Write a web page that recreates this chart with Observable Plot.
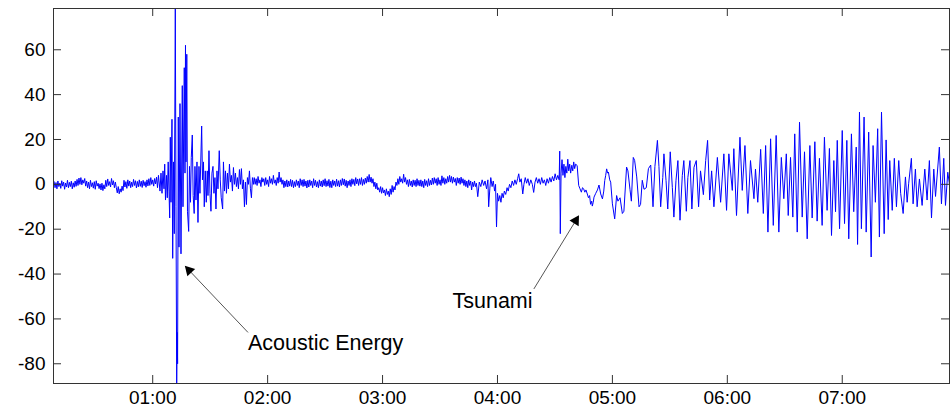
<!DOCTYPE html>
<html><head><meta charset="utf-8">
<script src="https://cdn.jsdelivr.net/npm/d3@7"></script>
<script src="https://cdn.jsdelivr.net/npm/@observablehq/plot@0.6"></script>
<style>body{margin:0;background:#fff}</style>
</head><body><div id="chart"></div>
<script>
// Time in minutes after 00:00, values in cm
const xDomain = [8.2, 476];
const yDomain = [-88.8, 78.4];
const xTickMinutes = [60, 120, 180, 240, 300, 360, 420];
const xTickLabels = ["01:00", "02:00", "03:00", "04:00", "05:00", "06:00", "07:00"];
const yTicks = [-80, -60, -40, -20, 0, 20, 40, 60];

// quiet background before the acoustic arrival, one sample every 30 s from 8.5 min
const quietAStart = 8.5, quietAStep = 0.5;
const quietA = [1.2,-1.5,0.8,-2,1.5,-1,0.5,-1.8,1.6,-0.8,1,-2.2,0.6,-1.2,1.8,-1.5,0.9,-1,1.4,-2,0.7,-1.3,1.5,-0.9,
  2.2,-0.5,2.8,0,3,-0.2,2,0.5,2.6,-0.8,
  1.5,-1.5,1,-2,1.8,-1,0.7,-1.7,1.2,-2.2,1.6,-0.8,0.5,-1.9,
  0.2,-2.5,0.5,-2.8,-0.2,-2,
  1.8,-1,2.4,-0.5,1.2,-1.2,2.6,-0.3,1.6,-1.5,1,
  -1.5,-3.8,-1,-4.2,-2,-3.5,-0.8,-2.8,
  1.8,-1.2,1.2,-1.8,2,-0.8,1.5,-1.5,1,-1,2.2,-0.5,1.6,-1.6,1.3,-1.1,2,-0.9,1.4,-1.4,1.8,-0.6,1.2,-1.3,2,-0.7,
  2.5,-0.5,3,0,2,-0.8,2.6,0.2,3.2,-1.5,4];

// acoustic energy burst [minute, value]
const burst = [[63.8,-3],[64.32,5],[64.85,-4],[65.37,6],[65.89,-2],[66.26,9],[66.67,-7],[67.2,4],[67.61,-6],[68.08,10],[68.5,-3],[68.86,-15],[69.18,21],[69.54,-8],[70.06,29],[70.43,-33],[70.85,10],[71.26,-22],[71.79,78.4],[72.15,-10],[72.52,-88.8],[72.78,-66],[72.99,-80],[73.35,30],[73.72,-28],[74.24,36],[74.76,-31],[75.44,44],[75.8,-10],[76.48,52],[76.85,5],[77.11,62],[77.37,10],[77.79,58],[78.15,-12],[78.78,-21],[79.19,8],[79.72,-8],[80.13,12],[80.66,22],[81.12,-5],[81.65,-13],[82.06,8],[82.59,-7],[83.11,10],[83.63,-17],[84.15,8],[84.67,-4],[85.56,26],[85.98,2],[86.5,10],[86.92,-10],[87.44,6],[87.96,-8],[88.48,6],[88.85,-5],[89.37,15],[89.89,-4],[90.41,-12],[90.93,5],[91.46,8],[91.98,-4],[92.5,3],[93.02,-11],[93.54,6],[94.07,-2],[94.74,15],[95.26,2],[95.78,-6],[96.51,-11],[96.93,10],[97.45,-3],[97.98,6],[98.5,-4],[99.02,5],[99.54,-2],[100.06,9],[100.58,1],[101.1,4],[101.63,-3],[102.15,7.5],[102.67,0],[103.19,5],[103.71,-1],[104.24,3],[104.76,-2],[105.28,6.6],[105.8,0],[106.32,7],[106.84,-2],[107.37,2],[107.89,-10],[108.41,1],[108.93,-9],[109.45,3],[109.97,0],[110.5,6],[111.02,-2],[111.54,-6],[112.06,3],[112.58,0]];

// quiet interval between the burst and the tsunami, one sample every 30 s from 113 min
const quietCStart = 113, quietCStep = 0.5;
const quietC = [3,0,2.5,-0.5,3.5,0.5,2,-1,3,1,
  2.5,-0.5,3,0,2,-1,3.5,0.5,2.5,0,
  4,0.5,2,-0.5,3,0.5,5.5,1,3,0,
  2,-1.5,1.5,-1,2,-1.2,1.5,-0.8,2.2,-1,
  1.8,-1.5,1.2,-1,2,-0.5,1.5,-1.5,2.5,-0.5,
  2,-1,2.2,-0.8,1.5,-1.6,1.8,-1.2,2,-0.5,
  1.5,-1.5,2.5,-0.5,1.8,-1.2,1.2,-1.5,2,-0.8,
  1.5,-1.2,2,-0.6,2.5,-1,1.6,-0.8,2.2,-1.4,
  1.4,-1.5,2,-0.5,1.5,-1,2.3,-0.8,1.6,-1.2,
  2,-0.5,2.6,-0.2,2.4,-0.8,1.8,-1.5,1.5,-0.5,
  2,-1,2.5,0,2.2,-0.6,3,0.2,2.4,-0.5,
  2.5,0,3,-0.5,2.2,0,2.8,0.5,3.5,1,
  4.4,1,3.2,0.5,2.5,-1,1,-2,0.5,-2.5,
  -1.5,-3.5,-1,-4,-1.5,-3.8,-2.5,-5,-2,-4.5,
  -3,-5.5,-2,-4.5,-0.5,-3.5,-1,-2.5,1,-0.5,
  2.5,0,3.5,1,2.5,0.5,4.5,1,3,0,
  2,-1,2.2,-0.5,1.5,-1.2,2,-0.5,1.8,-1,
  2.5,-0.5,1.8,-0.8,2,-1,1.5,-1.5,2.2,-0.5,
  1.6,-1,2.5,-0.5,1.8,-0.3,2.8,0,3,0.5,
  2.5,-0.5,3,0,2,-0.5,3.8,0.5,3,0,
  2.5,0.5,3.5,1,4,1,3.5,0.5,3.2,1,
  2.6,-0.5,3,0.5,2.8,0,3.2,0.5,2.5,-0.5,
  2,-1,1.5,-1.5,2,-0.5,1.5,-2.5,1,-1,
  1.5,-1];

// before the tsunami arrival [minute, value]
const preTsunami = [[229,0.5],[229.7,-5.5],[230.5,1],[231.3,-1],[232,2],[232.8,-0.5],[233.5,1.5],[234.3,-2],[235,2],[235.4,-10],[236,-2],[236.5,3],[237.2,-1],[237.8,1.5],[238.5,-3],[239,0],[239.5,-19],[240,-4],[240.6,-7.5],[241.2,-5],[241.8,-8],[242.4,-4],[243,-6],[243.6,-3],[244.3,-4.5],[245,-1.5],[245.6,-3],[246.3,0],[247,-1.5],[247.7,1.5],[248.4,-0.5],[249.1,2],[249.8,0],[250.5,2.5],[251.1,4.7],[251.7,1],[252.4,2.5],[253.2,-4.3],[253.8,0],[254.5,3],[255.2,0.5],[255.9,2.5],[256.6,-0.5],[257.4,2],[258.2,0],[258.9,-3.6],[259.6,1],[260.3,3],[261,0.5],[261.7,2.5],[262.4,0],[263.1,3],[263.8,0.5],[264.5,2],[265.2,-0.5],[265.9,2.5],[266.6,0.5],[267.3,3],[268,1],[268.7,3.5],[269.4,1.5],[270.1,4.7],[270.8,2],[271.5,4],[272.2,2],[272.5,14.8],[272.8,-22],[273.2,5],[273.7,11],[274.2,4],[274.7,9],[275.2,3],[275.7,8],[276.2,5],[276.7,11.2],[277.2,6],[277.7,9],[278.2,5],[278.8,8.5],[279.3,6],[279.8,10],[280.3,7],[280.8,9],[281.6,8.4],[282.4,-0.5],[283.1,-2],[283.8,-3.5],[284.4,-1.5],[285,-2],[285.6,-3.5],[286.2,-2.5],[286.9,-4.3],[287.5,-6],[288.1,-5],[288.6,-8.9],[289.2,-7.5],[289.5,-9.7],[290,-8],[290.4,-5.7],[291.3,-4],[292.2,-2.5],[293,-0.3],[293.9,-4.3],[294.8,-6.5],[295.5,-3],[296,1.7],[296.5,4],[297,6.9],[297.5,5],[297.9,5.5],[298.6,2],[299.1,1]];

// tsunami oscillations [minute, value]
const tsunami = [[300,-8.7],[301.2,-15.4],[302.2,-5],[302.9,-7.5],[304,-6],[305.2,-13],[306,-12],[307.4,7.7],[308.1,6],[309.2,-2.4],[309.9,-7.5],[310.9,12],[311.6,10.7],[312.7,3.3],[313.9,-10],[314.7,-9],[315.6,1.8],[316.5,-2.2],[317.7,-1.5],[318.8,7],[320,8.6],[321.2,-10],[322.2,8],[323.5,19.6],[324.3,8],[325.2,-10],[326.3,3],[326.9,13.6],[328,1.8],[328.9,-11],[330.2,14.5],[331.3,-1.5],[332.1,-14.6],[333.2,1.8],[334.2,10.6],[335.3,-16],[336.5,4],[337.3,10.6],[338.6,-12],[339.4,3],[340.5,10.6],[341.5,-11],[342.6,7.6],[343.8,10.6],[345,-10],[346,6],[347.5,-4.6],[348.7,10.6],[349.7,19.6],[350.8,-7],[351.8,6],[353,-10],[354.8,12],[356.5,-8],[358.2,13.6],[359.6,-11.6],[360.8,13.6],[362.6,-2.7],[363.4,15.9],[364.8,-13.9],[366.6,21],[367.8,-2.7],[369.2,17.3],[370.7,-13],[372.1,10.6],[373.9,-6.4],[374.7,6.8],[375.9,-8],[377.4,15.6],[378.8,-13],[380,17.3],[381.2,-21.3],[382.6,20.3],[384,-18.3],[385.5,21.8],[386.9,-21.3],[388.2,12],[389.5,-6.4],[390.8,13.6],[391.8,-13.9],[393,12],[394.2,-14.6],[395.2,22.5],[396.5,-21.3],[397.7,27.7],[399.1,-14.6],[400.3,14.5],[401.7,-24.3],[403.1,17.3],[404.3,-15],[405.7,19],[406.9,-16.4],[408.1,11.6],[409.5,-18.3],[410.7,21],[412.1,-11.6],[413.3,16],[414.4,-22.8],[415.6,10.6],[416.5,-12.2],[417.4,19.6],[418.6,-19.8],[420,24],[421.2,-17.5],[422.4,19.6],[423.4,-24.3],[424.8,22.5],[426,-12.2],[427.3,16.6],[428,-26.8],[429,32.2],[430,-19.8],[431.4,30],[432.5,-21.3],[433.8,23.3],[435.1,-32.4],[436.1,17.3],[437.3,-8],[438.5,24.8],[439.4,-23.5],[440.5,32.2],[441.9,-22],[442.9,19.8],[444,-15.7],[444.8,10.6],[446.1,-11.6],[447.2,11.6],[448.3,-10],[449.5,10.6],[450.5,-4],[451.8,-13],[453,3.3],[453.9,-8],[454.7,0.5],[456.1,11.6],[457,-8.7],[458.2,6.8],[459.1,-10],[460.3,2.4],[461.7,-9.4],[463.1,6.8],[464.3,-7],[465.5,10.6],[466.6,-15],[467.8,6.8],[468.7,-5.4],[470.7,16.6],[471.8,-8.7],[473,11.6],[473.9,-9.4],[475.1,5.4],[476,0]];

// annotations
const labels = [
  {t: 109.7, v: -71.0, text: "Acoustic Energy"},
  {t: 216.5, v: -51.9, text: "Tsunami"}
];
const arrows = [
  {t1: 109.6, v1: -65.9, t2: 77.4, v2: -36.9, angle: -43.5},
  {t1: 259.1, v1: -46.5, t2: 282.0, v2: -14.6, angle: 31.6}
];
// filled head placed a little back from each arrow tip
const heads = arrows.map(a => ({t: a.t2 + (a.t1 - a.t2) * 0.05, v: a.v2 + (a.v1 - a.v2) * 0.05, angle: a.angle}));

const series = [];
quietA.forEach((v, i) => series.push({t: quietAStart + i * quietAStep, v}));
burst.forEach(([t, v]) => series.push({t, v}));
quietC.forEach((v, i) => series.push({t: quietCStart + i * quietCStep, v}));
preTsunami.forEach(([t, v]) => series.push({t, v}));
tsunami.forEach(([t, v]) => series.push({t, v}));

const fmtY = d => d < 0 ? "-" + (-d) : String(d);

const chart = Plot.plot({
  width: 950, height: 408,
  marginTop: 8, marginBottom: 25, marginLeft: 53, marginRight: 1,
  style: {fontFamily: "'Liberation Sans', Arial, sans-serif", fontSize: "19px", background: "#fff", color: "#000"},
  x: {domain: xDomain, label: null},
  y: {domain: yDomain, label: null},
  marks: [
    Plot.line(series, {x: "t", y: "v", stroke: "#0000ff", strokeWidth: 1, clip: true}),
    Plot.frame({stroke: "#333"}),
    Plot.ruleX(xTickMinutes, {x: d => d, stroke: "#333", insetTop: 367}),
    Plot.ruleX(xTickMinutes, {x: d => d, stroke: "#333", insetBottom: 367}),
    Plot.ruleY(yTicks, {y: d => d, stroke: "#333", insetRight: 888}),
    Plot.ruleY(yTicks, {y: d => d, stroke: "#333", insetLeft: 888}),
    Plot.axisX(xTickMinutes, {tickSize: 0, tickPadding: 7, fontSize: 19, tickFormat: d => xTickLabels[xTickMinutes.indexOf(d)], fill: "#000"}),
    Plot.axisY(yTicks, {tickSize: 0, tickPadding: 8, fontSize: 19, tickFormat: fmtY, fill: "#000"}),
    Plot.arrow(arrows, {x1: "t1", y1: "v1", x2: "t2", y2: "v2", stroke: "#555", strokeWidth: 1, headLength: 0}),
    Plot.dot(heads, {x: "t", y: "v", symbol: "triangle", r: 4, fill: "#000", stroke: "none", rotate: "angle"}),
    Plot.text(labels, {x: "t", y: "v", text: "text", textAnchor: "start", fill: "#000", fontSize: 21.5})
  ]
});
document.getElementById("chart").append(chart);
</script>
</body></html>
